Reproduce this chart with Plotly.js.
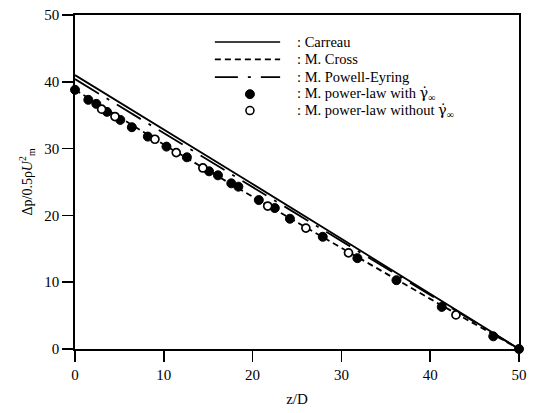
<!DOCTYPE html>
<html>
<head>
<meta charset="utf-8">
<script src="https://cdn.plot.ly/plotly-3.0.1.min.js"></script>
<style>html,body{margin:0;padding:0;background:#fff;}#chart{width:536px;height:413px;}</style>
</head>
<body>
<div id="chart"></div>
<script>
// Model curves
const lineX = [0, 10, 20, 30, 40, 50];
const carreauY = [41.0, 32.9, 24.7, 16.5, 8.3, 0];
const crossY = [38.8, 30.6, 22.8, 15.1, 7.5, 0];
const powellY = [40.4, 32.3, 24.2, 16.1, 8.0, 0];

// M. power-law with gamma-dot-infinity (filled)
const withX = [0, 1.5, 2.4, 3.6, 5.1, 6.4, 8.2, 10.3, 12.6, 15.1, 16.1, 17.6, 18.4, 20.7, 22.5, 24.2, 27.9, 31.8, 36.2, 41.3, 47.1, 50];
const withY = [38.8, 37.3, 36.7, 35.5, 34.3, 33.2, 31.8, 30.3, 28.7, 26.6, 26.0, 24.8, 24.3, 22.3, 21.1, 19.5, 16.8, 13.6, 10.3, 6.3, 1.9, 0];

// M. power-law without gamma-dot-infinity (open)
const withoutX = [3.0, 4.5, 9.0, 11.4, 14.4, 21.7, 26.0, 30.8, 42.9];
const withoutY = [35.9, 34.8, 31.4, 29.4, 27.1, 21.4, 18.1, 14.4, 5.1];

const gammaDot = '<span style="font-family:DejaVu Serif">γ̇</span><sub>∞</sub>';
const legendNames = [': Carreau', ': M. Cross', ': M. Powell-Eyring', ': M. power-law with ' + gammaDot, ': M. power-law without ' + gammaDot];
const tickVals = [0, 10, 20, 30, 40, 50];

const serif = 'Liberation Serif, Times New Roman, serif';
const dashCross = '6px,4px';
const dashPowell = '28px,9px,3px,9px';

const traces = [
  {x: lineX, y: carreauY, mode: 'lines', line: {color: '#000', width: 1.8}, showlegend: false, cliponaxis: false},
  {x: lineX, y: crossY, mode: 'lines', line: {color: '#000', width: 1.8, dash: dashCross}, showlegend: false},
  {x: lineX, y: powellY, mode: 'lines', line: {color: '#000', width: 1.8, dash: dashPowell}, showlegend: false},
  {x: withX, y: withY, mode: 'markers', marker: {color: '#000', size: 9, line: {color: '#000', width: 1}}, showlegend: false, cliponaxis: false},
  {x: withoutX, y: withoutY, mode: 'markers', marker: {color: '#fff', size: 8, line: {color: '#000', width: 1.7}}, showlegend: false, cliponaxis: false}
];

// custom legend (paper coordinates)
const rowY = [0.919, 0.867, 0.814, 0.763, 0.714];
const lx0 = 0.315, lx1 = 0.462, mx = 0.394, tx = 0.495;
const shapes = [
  {type: 'line', xref: 'paper', yref: 'paper', x0: lx0, x1: lx1, y0: rowY[0], y1: rowY[0], line: {color: '#000', width: 1.6}},
  {type: 'line', xref: 'paper', yref: 'paper', x0: lx0, x1: lx1, y0: rowY[1], y1: rowY[1], line: {color: '#000', width: 1.6, dash: dashCross}},
  {type: 'line', xref: 'paper', yref: 'paper', x0: lx0, x1: lx1, y0: rowY[2], y1: rowY[2], line: {color: '#000', width: 1.6, dash: '23px,10px,3px,10px'}},
  {type: 'circle', xref: 'paper', yref: 'paper', xsizemode: 'pixel', ysizemode: 'pixel', xanchor: mx, yanchor: rowY[3], x0: -4.5, x1: 4.5, y0: -4.5, y1: 4.5, fillcolor: '#000', line: {color: '#000', width: 1}},
  {type: 'circle', xref: 'paper', yref: 'paper', xsizemode: 'pixel', ysizemode: 'pixel', xanchor: mx, yanchor: rowY[4], x0: -4, x1: 4, y0: -4, y1: 4, fillcolor: '#fff', line: {color: '#000', width: 1.6}}
];
const annotations = legendNames.map((t, i) => ({
  text: t, xref: 'paper', yref: 'paper', x: tx, y: rowY[i], xanchor: 'left', yanchor: 'middle',
  showarrow: false, font: {family: serif, size: 14.5, color: '#000'}
}));

const layout = {
  width: 536, height: 413,
  margin: {l: 75, r: 17, t: 15, b: 64},
  paper_bgcolor: '#fff', plot_bgcolor: '#fff',
  showlegend: false,
  font: {family: serif, size: 14, color: '#000'},
  xaxis: {
    range: [0, 50], tickvals: tickVals, ticktext: tickVals.map(String),
    showgrid: false, zeroline: false, showline: true, linecolor: '#000', linewidth: 1.8,
    mirror: true, ticks: 'outside', ticklen: 11, tickwidth: 1.5, tickcolor: '#000',
    tickfont: {family: serif, size: 15, color: '#000'},
    title: {text: 'z/D', font: {family: serif, size: 15, color: '#000'}, standoff: 12}
  },
  yaxis: {
    range: [0, 50], tickvals: tickVals, ticktext: tickVals.map(String),
    showgrid: false, zeroline: false, showline: true, linecolor: '#000', linewidth: 1.8,
    mirror: true, ticks: 'outside', ticklen: 11, tickwidth: 1.5, tickcolor: '#000',
    tickfont: {family: serif, size: 15, color: '#000'},
    title: {text: 'Δp/0.5ρ<i>U</i><sup>2</sup><sub>m</sub>', font: {family: serif, size: 14, color: '#000'}, standoff: 8}
  },
  shapes: shapes,
  annotations: annotations
};

Plotly.newPlot('chart', traces, layout, {displayModeBar: false, staticPlot: true});
</script>
</body>
</html>
